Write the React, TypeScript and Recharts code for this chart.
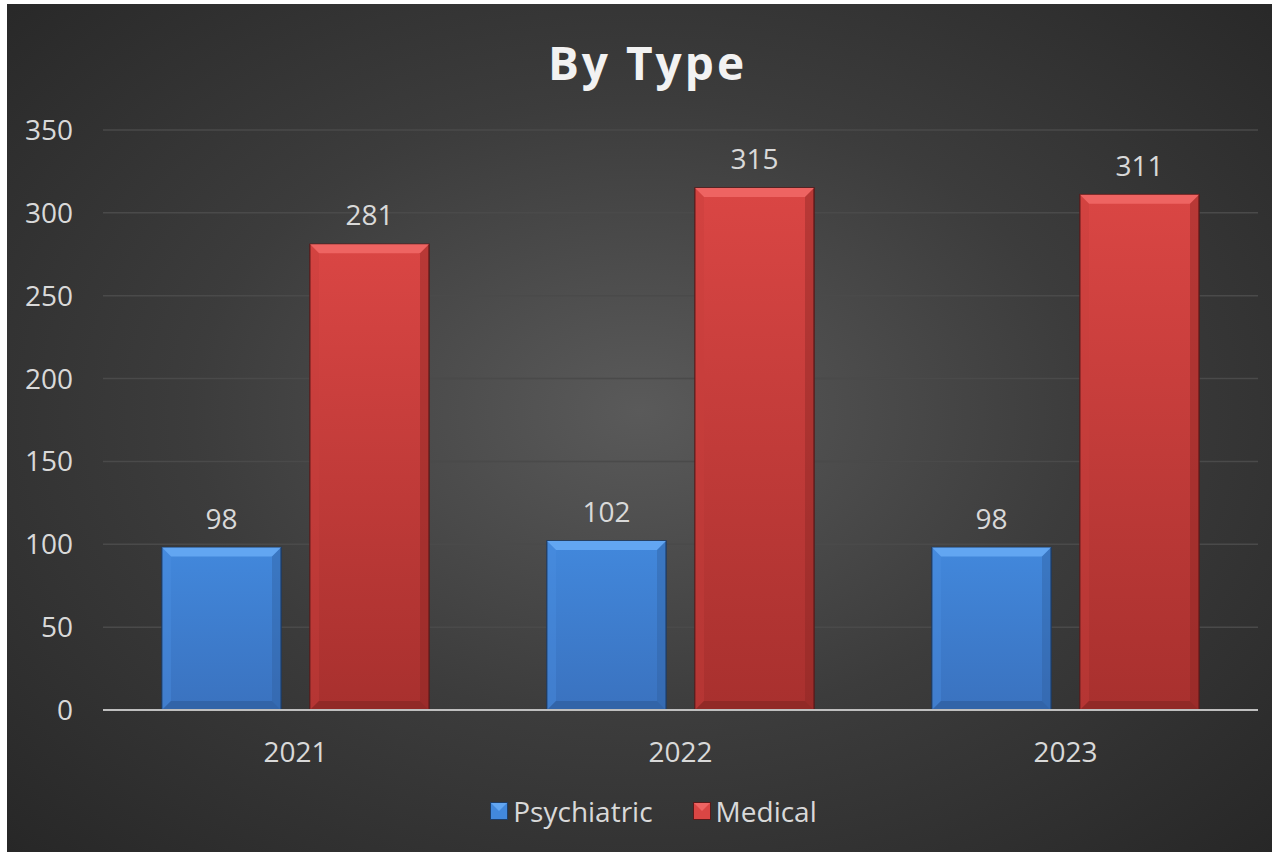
import React from 'react'
import { BarChart, Bar, XAxis, YAxis, CartesianGrid, Legend, LabelList } from 'recharts'

const years = ['2021', '2022', '2023']
const psychiatric = [98, 102, 98]
const medical = [281, 315, 311]
const yTicks = [0, 50, 100, 150, 200, 250, 300, 350]

const data = years.map((year, i) => ({ year, Psychiatric: psychiatric[i], Medical: medical[i] }))

const FONT = '"Open Sans", "Noto Sans", sans-serif'
const TEXT = '#d9d9d9'
const FS = 28

const palettes: Record<string, { top: string; bottom: string; bevelTop: string; bevelSide: string; bevelDark: string; edge: string }> = {
  blue: { top: '#4288dc', bottom: '#3a72bf', bevelTop: '#62a6f2', bevelSide: '#4a8fe0', bevelDark: '#2f5e9e', edge: '#1e3d66' },
  red: { top: '#da4644', bottom: '#a8302e', bevelTop: '#ee6462', bevelSide: '#c83e3c', bevelDark: '#882624', edge: '#5a1a1a' },
}

function BevelBar(props: any) {
  const { x, y, width, height, palette, index } = props
  if (!height || height <= 0) return null
  const p = palettes[palette]
  const b = Math.min(9, width / 4, height / 4)
  const id = `grad-${palette}-${index}`
  return (
    <g>
      <defs>
        <linearGradient id={id} x1="0" y1="0" x2="0" y2="1">
          <stop offset="0%" stopColor={p.top} />
          <stop offset="100%" stopColor={p.bottom} />
        </linearGradient>
      </defs>
      <rect x={x} y={y} width={width} height={height} fill={`url(#${id})`} stroke={p.edge} strokeWidth={1.5} />
      <polygon points={`${x},${y} ${x + width},${y} ${x + width - b},${y + b} ${x + b},${y + b}`} fill={p.bevelTop} />
      <polygon points={`${x},${y} ${x + b},${y + b} ${x + b},${y + height - b} ${x},${y + height}`} fill={p.bevelSide} opacity={0.4} />
      <polygon points={`${x + width},${y} ${x + width - b},${y + b} ${x + width - b},${y + height - b} ${x + width},${y + height}`} fill={p.bevelDark} opacity={0.4} />
      <polygon points={`${x},${y + height} ${x + b},${y + height - b} ${x + width - b},${y + height - b} ${x + width},${y + height}`} fill={p.bevelDark} opacity={0.7} />
    </g>
  )
}

function LegendContent() {
  const items = [
    { name: 'Psychiatric', palette: 'blue' },
    { name: 'Medical', palette: 'red' },
  ]
  return (
    <div style={{ display: 'flex', justifyContent: 'center', alignItems: 'center', gap: 40, fontFamily: FONT, fontSize: FS, color: TEXT, paddingLeft: 28 }}>
      {items.map((it) => {
        const p = palettes[it.palette]
        return (
          <div key={it.name} style={{ display: 'flex', alignItems: 'center', gap: 5 }}>
            <svg width={18} height={18}>
              <rect x={0.5} y={0.5} width={17} height={17} fill={p.top} stroke={p.edge} />
              <polygon points="1,1 17,1 9,9" fill={p.bevelTop} />
            </svg>
            <span>{it.name}</span>
          </div>
        )
      })}
    </div>
  )
}

export default function App() {
  return (
    <div
      style={{
        position: 'absolute',
        left: 7,
        top: 4,
        width: 1265,
        height: 848,
        background: 'radial-gradient(ellipse at 50% 48%, #5a5a5a 0%, #3c3c3c 50%, #272727 100%)',
      }}
    >
      <div
        style={{
          position: 'absolute',
          top: 28,
          left: 8,
          width: 1265,
          textAlign: 'center',
          fontFamily: FONT,
          fontWeight: 700,
          fontSize: 46,
          lineHeight: '60px',
          letterSpacing: 3,
          color: '#f2f2f2',
        }}
      >
        By Type
      </div>
      <BarChart
        width={1265}
        height={848}
        data={data}
        margin={{ top: 126, right: 14, bottom: 112, left: 0 }}
        barCategoryGap={59}
        barGap={29}
        style={{ position: 'absolute', top: 0, left: 0 }}
      >
        <CartesianGrid vertical={false} stroke="#4a4a4a" strokeWidth={1.5} />
        <XAxis
          dataKey="year"
          height={30}
          axisLine={{ stroke: '#bfbfbf', strokeWidth: 2 }}
          tickLine={false}
          tickSize={0}
          tickMargin={32}
          tick={{ fill: TEXT, fontSize: FS, fontFamily: FONT }}
        />
        <YAxis
          width={96}
          domain={[0, 350]}
          ticks={yTicks}
          axisLine={false}
          tickLine={false}
          tickSize={0}
          tickMargin={30}
          tick={{ fill: TEXT, fontSize: FS, fontFamily: FONT }}
        />
        <Legend
          layout="horizontal"
          verticalAlign="middle"
          align="center"
          content={<LegendContent />}
          wrapperStyle={{ top: 788, left: 0, width: 1265 }}
        />
        <Bar dataKey="Psychiatric" isAnimationActive={false} shape={(p: any) => <BevelBar {...p} palette="blue" />}>
          <LabelList dataKey="Psychiatric" position="top" offset={19} fill={TEXT} fontSize={FS} fontFamily={FONT} />
        </Bar>
        <Bar dataKey="Medical" isAnimationActive={false} shape={(p: any) => <BevelBar {...p} palette="red" />}>
          <LabelList dataKey="Medical" position="top" offset={19} fill={TEXT} fontSize={FS} fontFamily={FONT} />
        </Bar>
      </BarChart>
    </div>
  )
}
